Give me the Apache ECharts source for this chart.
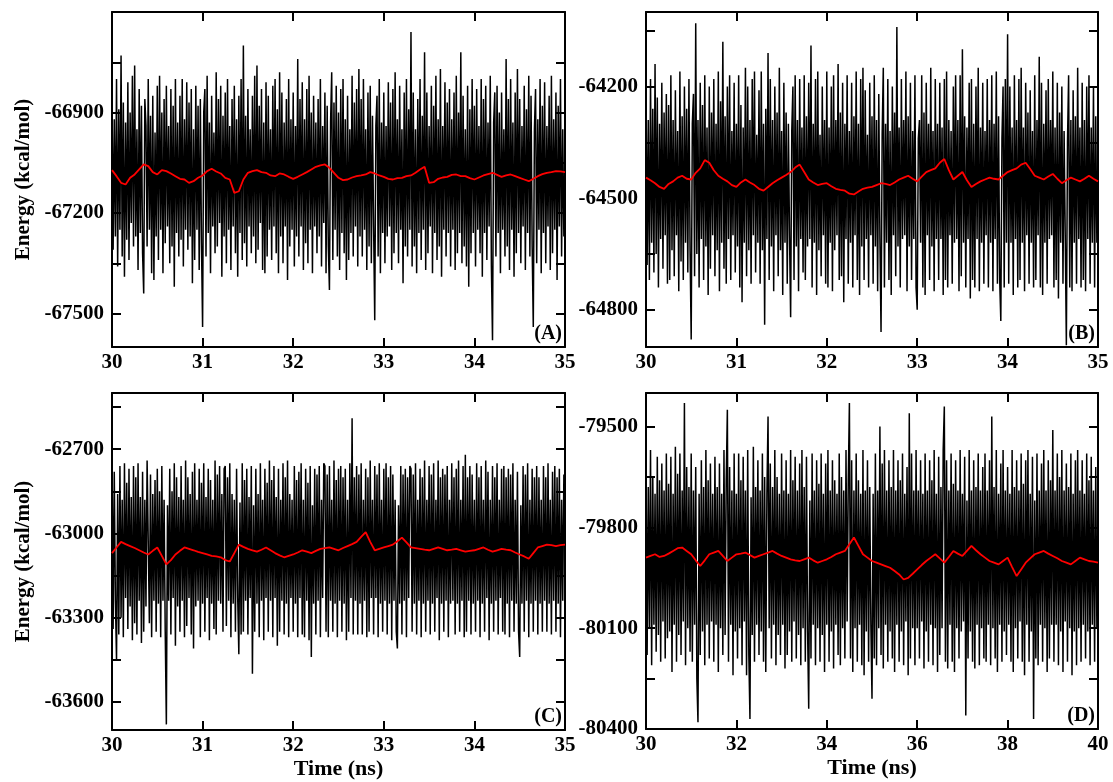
<!DOCTYPE html>
<html>
<head>
<meta charset="utf-8">
<script src="https://cdn.jsdelivr.net/npm/echarts@6/dist/echarts.min.js"></script>
<style>
html,body{margin:0;padding:0;background:#fff;}
#chart{width:1113px;height:782px;}
</style>
</head>
<body>
<div id="chart"></div>
<script>
// ---------------- DATA ----------------
const panelLabels = ['(A)', '(B)', '(C)', '(D)'];
const yTitle = 'Energy (kcal/mol)';
const xTitle = 'Time (ns)';

// time span of each panel (samples are evenly spaced over it)
const timeStart = [30, 30, 30, 30];
const timeEnd = [35, 35, 35, 40];
const xTickInterval = [1, 1, 1, 2];

// y ranges and tick labels
const yMin = [-67600, -64900, -63700, -80400];
const yMax = [-66600, -64000, -62500, -79400];
const yLabelsA = [-67500, -67200, -66900];
const yLabelsB = [-64800, -64500, -64200];
const yLabelsC = [-63600, -63300, -63000, -62700];
const yLabelsD = [-80400, -80100, -79800, -79500];
const yTicksA = [-67500, -67350, -67200, -67050, -66900, -66750];
const yTicksB = [-64800, -64650, -64500, -64350, -64200, -64050];
const yTicksC = [-63600, -63450, -63300, -63150, -63000, -62850, -62700, -62550];
const yTicksD = [-80400, -80250, -80100, -79950, -79800, -79650, -79500];

// raw energies (black)
const energyA = [
-66840,-67310,-66920,-67270,-66800,-67360,-66890,-67250,-66730,-67330,-66870,-67390,-66930,-67280,-66810,-67340,-66900,-67230,-66790,-67300,
-66760,-67270,-66950,-67370,-66830,-67260,-66880,-67320,-67440,-66860,-66940,-67300,-66800,-67250,-66910,-67380,-66850,-67400,-66960,-67270,
-66820,-67340,-66790,-67250,-66900,-67380,-66860,-67290,-66820,-67240,-66940,-67350,-66830,-67300,-66880,-67420,-66800,-67260,-66930,-67330,
-66850,-67280,-66800,-67360,-66920,-67250,-66810,-67310,-66870,-67270,-66830,-67410,-66950,-67340,-66820,-67250,-66880,-67370,-66860,-67290,
-67540,-66900,-66830,-67330,-66790,-67260,-66930,-67380,-66850,-67240,-66960,-67320,-66780,-67300,-66860,-67230,-66820,-67390,-66910,-67270,
-66840,-67350,-66800,-67250,-66940,-67370,-66860,-67240,-66820,-67320,-66920,-67390,-66850,-67260,-66800,-67340,-66700,-67290,-66910,-67360,
-66830,-67240,-66950,-67320,-66850,-67270,-66790,-67350,-66760,-67310,-66880,-67230,-66830,-67370,-66930,-67380,-66810,-67330,-66850,-67250,
-66950,-67340,-66820,-67240,-66800,-67320,-66890,-67380,-66780,-67270,-66840,-67350,-66930,-67240,-66860,-67400,-66800,-67300,-66920,-67250,
-66840,-67360,-66940,-67270,-66740,-67330,-66860,-67240,-66810,-67370,-66920,-67290,-66830,-67350,-66790,-67250,-66900,-67380,-66850,-67240,
-66930,-67320,-66860,-67270,-66800,-67360,-66940,-67230,-66840,-67380,-66880,-67300,-67430,-66930,-66780,-67340,-66870,-67250,-66820,-67330,
-66900,-67370,-66830,-67260,-66800,-67320,-66920,-67400,-66850,-67340,-66950,-67260,-66790,-67330,-66870,-67240,-66830,-67360,-66770,-67270,
-66860,-67330,-66800,-67250,-66950,-67370,-66840,-67300,-66820,-67350,-66910,-67240,-67520,-66940,-66850,-67330,-66800,-67380,-66930,-67260,
-66840,-67350,-66940,-67270,-66810,-67240,-66870,-67370,-66830,-67320,-66780,-67260,-66920,-67350,-66820,-67250,-66950,-67410,-66840,-67300,
-66800,-67330,-66890,-67250,-66660,-67360,-66840,-67300,-66950,-67380,-66860,-67260,-66800,-67340,-66910,-67250,-66720,-67370,-66840,-67320,
-66940,-67240,-66820,-67380,-66880,-67260,-66790,-67340,-66920,-67300,-66770,-67390,-66940,-67250,-66810,-67330,-66870,-67260,-66830,-67360,
-66920,-67250,-66840,-67370,-66790,-67320,-66900,-67260,-66720,-67350,-66850,-67300,-66950,-67360,-66820,-67420,-66890,-67320,-66800,-67260,
-66880,-67360,-66830,-67250,-66940,-67320,-66800,-67390,-66860,-67260,-66820,-67340,-66930,-67240,-66790,-67360,-67580,-66930,-66840,-67330,
-66820,-67260,-66900,-67380,-66840,-67250,-66950,-67330,-66740,-67300,-66860,-67370,-66800,-67250,-66930,-67390,-66840,-67320,-66770,-67260,
-66860,-67350,-66940,-67240,-66820,-67370,-66890,-67260,-66790,-67330,-66850,-67300,-67540,-66950,-66830,-67350,-66920,-67250,-66800,-67380,
-66880,-67260,-66810,-67350,-66940,-67240,-66850,-67370,-66790,-67320,-66920,-67250,-66840,-67400,-66880,-67240,-66800,-67330,-66950,-67270,
-67060];
const energyB = [
-64200,-64680,-64290,-64720,-64180,-64620,-64260,-64700,-64140,-64650,-64230,-64740,-64300,-64610,-64190,-64690,-64270,-64600,-64220,-64730,
-64250,-64720,-64170,-64640,-64290,-64710,-64210,-64600,-64320,-64750,-64160,-64670,-64280,-64720,-64200,-64620,-64260,-64700,-64180,-64640,
-64880,-64300,-64220,-64710,-64030,-64650,-64290,-64740,-64190,-64610,-64250,-64720,-64170,-64630,-64310,-64760,-64200,-64690,-64270,-64600,
-64180,-64710,-64300,-64640,-64160,-64750,-64240,-64620,-64080,-64690,-64280,-64730,-64200,-64610,-64170,-64720,-64320,-64600,-64190,-64700,
-64300,-64630,-64170,-64740,-64250,-64780,-64310,-64620,-64150,-64710,-64200,-64640,-64290,-64730,-64180,-64600,-64160,-64700,-64330,-64620,
-64210,-64730,-64160,-64640,-64300,-64840,-64260,-64610,-64110,-64720,-64180,-64630,-64290,-64750,-64200,-64600,-64270,-64710,-64150,-64640,
-64320,-64760,-64190,-64620,-64270,-64730,-64300,-64600,-64820,-64320,-64200,-64720,-64170,-64630,-64290,-64750,-64180,-64610,-64310,-64700,
-64170,-64720,-64280,-64630,-64190,-64610,-64090,-64740,-64300,-64620,-64180,-64760,-64160,-64640,-64330,-64710,-64200,-64600,-64290,-64730,
-64160,-64740,-64310,-64620,-64200,-64750,-64170,-64640,-64290,-64600,-64140,-64720,-64270,-64710,-64190,-64780,-64300,-64610,-64170,-64730,
-64320,-64620,-64190,-64740,-64280,-64600,-64160,-64720,-64300,-64760,-64180,-64630,-64150,-64720,-64210,-64610,-64330,-64740,-64190,-64600,
-64280,-64730,-64170,-64630,-64290,-64750,-64220,-64610,-64860,-64330,-64150,-64740,-64300,-64620,-64180,-64720,-64320,-64760,-64200,-64600,
-64270,-64710,-64040,-64630,-64310,-64740,-64180,-64610,-64290,-64600,-64160,-64750,-64280,-64630,-64190,-64720,-64320,-64610,-64170,-64740,
-64800,-64340,-64290,-64620,-64170,-64740,-64270,-64760,-64190,-64600,-64300,-64720,-64150,-64630,-64320,-64750,-64180,-64610,-64300,-64720,
-64190,-64610,-64310,-64760,-64180,-64720,-64160,-64740,-64290,-64600,-64320,-64730,-64200,-64620,-64170,-64610,-64290,-64750,-64170,-64710,
-64100,-64620,-64280,-64740,-64310,-64610,-64190,-64770,-64180,-64720,-64300,-64740,-64200,-64610,-64150,-64750,-64310,-64620,-64190,-64730,
-64320,-64600,-64180,-64740,-64290,-64620,-64170,-64750,-64300,-64610,-64160,-64730,-64280,-64720,-64830,-64340,-64200,-64740,-64180,-64620,
-64060,-64730,-64200,-64620,-64310,-64760,-64170,-64610,-64290,-64740,-64180,-64720,-64150,-64620,-64310,-64750,-64190,-64600,-64270,-64730,
-64210,-64620,-64320,-64740,-64170,-64720,-64290,-64600,-64120,-64740,-64190,-64760,-64300,-64620,-64210,-64730,-64180,-64610,-64290,-64600,
-64160,-64740,-64310,-64720,-64190,-64770,-64270,-64620,-64200,-64730,-64320,-64600,-64895,-64350,-64170,-64740,-64290,-64750,-64210,-64620,
-64280,-64730,-64150,-64610,-64310,-64740,-64190,-64720,-64290,-64750,-64200,-64610,-64170,-64730,-64310,-64620,-64200,-64740,-64280,-64620,
-64440];
const energyC = [
-62700,-63340,-62780,-63240,-63450,-62860,-63360,-62760,-63300,-62880,-63370,-62750,-63230,-62820,-63340,-62770,-63260,-62870,-63380,-62760,
-63320,-62800,-63360,-62750,-63240,-62870,-63390,-62780,-63350,-62880,-63260,-62740,-62740,-63320,-62790,-63370,-62860,-63240,-62810,-63350,
-62770,-63250,-62850,-63370,-62760,-63240,-62880,-63350,-63680,-62900,-63240,-62770,-63360,-62850,-63230,-62750,-63400,-62800,-63260,-62870,
-63350,-62760,-63240,-62880,-63370,-62740,-63330,-62800,-63230,-62860,-63360,-62780,-63410,-62750,-63260,-62880,-63240,-62770,-63370,-62820,
-63250,-62750,-63350,-62870,-63230,-62770,-63380,-62810,-63250,-62880,-63340,-62740,-63360,-62790,-63240,-62760,-63250,-62860,-63350,-62770,
-62760,-63330,-62800,-63240,-62750,-63370,-62860,-63250,-62880,-63350,-62770,-63230,-63430,-62890,-63360,-62750,-63350,-62810,-63240,-62770,
-63360,-62870,-63230,-62760,-63500,-62900,-63350,-62770,-63250,-62860,-63370,-62750,-63240,-62880,-63380,-62770,-63230,-62820,-63350,-62740,
-63240,-62810,-63370,-62760,-63230,-62870,-63400,-62770,-63350,-62880,-63240,-62750,-63360,-62800,-63250,-62740,-63370,-62860,-63230,-62880,
-63350,-62760,-63250,-62810,-63370,-62780,-63230,-62750,-63360,-62880,-63370,-62770,-63240,-62820,-63380,-62760,-63440,-62900,-63250,-62770,
-63360,-62790,-63240,-62760,-63370,-62880,-63230,-62750,-62760,-63350,-62790,-63370,-62760,-63240,-62880,-63350,-62740,-63250,-62810,-63370,
-62770,-63240,-62760,-63350,-62800,-63250,-62770,-63380,-62880,-63350,-62750,-63230,-62590,-63360,-62800,-63240,-62760,-63360,-62790,-63250,
-62750,-63360,-62880,-63240,-62770,-63370,-62800,-63350,-62740,-63230,-62880,-63360,-62760,-63230,-62790,-63370,-62750,-63250,-62880,-63350,
-62770,-63240,-62750,-63360,-62800,-63250,-62760,-63380,-62790,-63240,-62880,-63350,-63410,-62900,-63250,-62760,-63360,-62790,-63240,-62770,
-63370,-62800,-63230,-62760,-62770,-63350,-62790,-63250,-62750,-63360,-62880,-63240,-62770,-63370,-62800,-63250,-62740,-63350,-62880,-63240,
-62760,-63360,-62790,-63250,-62750,-63350,-62880,-63230,-62740,-63380,-62800,-63250,-62770,-63350,-62790,-63240,-62760,-63370,-62880,-63250,
-62750,-63240,-62800,-63360,-62770,-63250,-62740,-63350,-62880,-63240,-62760,-63370,-62720,-63350,-62800,-63240,-62760,-63360,-62790,-63250,
-62880,-63350,-62750,-63240,-62800,-63370,-62760,-63250,-62880,-63350,-62740,-63230,-62780,-63380,-62880,-63250,-62760,-63350,-62800,-63240,
-62750,-63360,-62880,-63230,-62770,-63350,-62760,-63360,-62800,-63250,-62770,-63370,-62790,-63240,-62750,-63350,-62880,-63250,-62780,-63350,
-63440,-62900,-63250,-62760,-63350,-62790,-63240,-62750,-63370,-62880,-63250,-62770,-63350,-62800,-63240,-62760,-63360,-62800,-63250,-62880,
-63350,-62760,-63240,-62800,-63350,-62750,-63250,-62880,-63360,-62780,-63240,-62760,-63350,-62800,-63250,-62770,-63370,-62880,-63240,-62790,
-63050];
const energyD = [
-79600,-80180,-79680,-80100,-79570,-80210,-79650,-80090,-79700,-80170,-79590,-80120,-79660,-80200,-79610,-80080,-79690,-80190,-79580,-80130,
-79670,-80110,-79590,-80230,-79700,-80090,-79560,-80200,-79640,-80120,-79580,-80180,-79690,-80080,-79430,-80210,-79620,-80100,-79680,-80170,
-79580,-80200,-79690,-80090,-79620,-80250,-80380,-79700,-80180,-79600,-80110,-79680,-80210,-79570,-80090,-79660,-80190,-79610,-80080,-79700,
-80200,-79590,-80090,-79680,-80230,-79610,-80100,-79700,-80180,-79570,-80120,-79660,-79450,-80200,-79620,-80090,-79690,-80240,-79580,-80110,
-79700,-80190,-79580,-80100,-79660,-80210,-79590,-80080,-79690,-80240,-79570,-80180,-80370,-79710,-80120,-79560,-80200,-79680,-80090,-79600,
-80180,-79690,-80110,-79580,-80200,-79650,-80230,-79700,-79470,-80100,-79610,-80190,-79680,-80090,-79570,-80210,-79650,-80120,-79700,-80180,
-79580,-80090,-79690,-80220,-79600,-80180,-79700,-80110,-79570,-80200,-79660,-80080,-79590,-80190,-79690,-80120,-79610,-80210,-79570,-80100,
-79680,-80200,-79590,-80110,-80340,-79720,-80190,-79580,-80090,-79690,-80210,-79600,-80100,-79670,-80200,-79580,-80120,-79700,-80230,-79610,
-80090,-79570,-80200,-79690,-80110,-79600,-80220,-79660,-80090,-79700,-80180,-79580,-80210,-79650,-80100,-79690,-80190,-79570,-80080,-79660,
-79430,-80190,-79600,-80230,-79690,-80100,-79580,-80200,-79660,-80090,-79700,-80210,-79570,-80240,-79690,-80110,-79600,-80200,-79680,-80090,
-80310,-79700,-80190,-79580,-80210,-79690,-80100,-79500,-80180,-79610,-80220,-79570,-80090,-79690,-80200,-79600,-80110,-79680,-80190,-79570,
-80230,-79690,-80090,-79600,-80200,-79660,-80110,-79580,-80210,-79700,-80080,-79620,-80240,-79460,-80190,-79580,-80100,-79690,-80210,-79570,
-80100,-79690,-80190,-79600,-80080,-79700,-80220,-79580,-80110,-79690,-80200,-79600,-80090,-79660,-80210,-79570,-80100,-79700,-80230,-79590,
-80180,-79680,-80100,-79570,-79440,-80200,-79600,-80220,-79690,-80090,-79580,-80200,-79670,-80230,-79600,-80100,-79690,-80190,-79570,-80110,
-79700,-80080,-79590,-80360,-79720,-80190,-79570,-80110,-79690,-80200,-79600,-80220,-79680,-80090,-79580,-80210,-79690,-80100,-79620,-80190,
-79580,-80200,-79690,-80090,-79600,-80210,-79470,-80100,-79680,-80190,-79570,-80230,-79700,-80090,-79610,-80200,-79570,-80110,-79690,-80180,
-79620,-80090,-79700,-80200,-79570,-80230,-79680,-80100,-79600,-80190,-79690,-80080,-79580,-80200,-79670,-80240,-79600,-80090,-79570,-80200,
-79700,-80110,-79590,-80370,-79720,-80190,-79580,-80210,-79690,-80090,-79610,-80200,-79570,-80100,-79690,-80230,-79600,-80190,-79660,-80090,
-79510,-80200,-79690,-80090,-79580,-80210,-79650,-80110,-79570,-80230,-79690,-80080,-79610,-80200,-79680,-80100,-79580,-80240,-79700,-80110,
-79600,-80210,-79570,-80100,-79690,-80200,-79600,-80090,-79700,-80190,-79580,-80110,-79660,-80210,-79590,-80090,-79690,-80200,-79620,-80100,
-79880];

// running averages (red)
const averageA = [
-67072,-67090,-67110,-67115,-67095,-67085,-67070,-67055,-67060,-67078,-67085,-67072,-67075,-67082,-67090,-67098,-67100,-67110,-67105,-67095,
-67088,-67075,-67068,-67076,-67082,-67095,-67100,-67140,-67135,-67100,-67080,-67075,-67072,-67078,-67080,-67088,-67090,-67082,-67085,-67092,
-67098,-67092,-67085,-67078,-67070,-67062,-67058,-67055,-67065,-67080,-67095,-67102,-67100,-67094,-67090,-67088,-67085,-67078,-67082,-67088,
-67092,-67098,-67100,-67096,-67095,-67090,-67088,-67080,-67070,-67062,-67110,-67108,-67098,-67094,-67092,-67086,-67085,-67090,-67090,-67096,
-67100,-67094,-67088,-67084,-67080,-67086,-67092,-67088,-67085,-67090,-67095,-67100,-67105,-67098,-67090,-67084,-67080,-67078,-67075,-67076,
-67078];
const averageB = [
-64445,-64452,-64460,-64470,-64475,-64462,-64455,-64445,-64440,-64448,-64450,-64432,-64420,-64398,-64405,-64425,-64440,-64448,-64455,-64465,
-64470,-64458,-64450,-64458,-64465,-64475,-64480,-64470,-64460,-64452,-64445,-64438,-64430,-64418,-64410,-64430,-64450,-64458,-64465,-64462,
-64460,-64468,-64475,-64478,-64480,-64488,-64490,-64482,-64475,-64472,-64470,-64465,-64460,-64462,-64465,-64458,-64450,-64445,-64440,-64448,
-64455,-64442,-64430,-64425,-64420,-64405,-64395,-64425,-64450,-64440,-64430,-64452,-64470,-64462,-64455,-64450,-64445,-64448,-64450,-64440,
-64430,-64425,-64420,-64410,-64405,-64422,-64440,-64445,-64450,-64442,-64435,-64448,-64460,-64452,-64445,-64450,-64455,-64448,-64440,-64448,
-64455];
const averageC = [
-63070,-63050,-63030,-63038,-63045,-63052,-63060,-63068,-63075,-63062,-63050,-63080,-63110,-63095,-63075,-63062,-63050,-63055,-63060,-63066,
-63070,-63075,-63080,-63082,-63085,-63095,-63100,-63070,-63040,-63048,-63055,-63060,-63065,-63058,-63050,-63060,-63070,-63078,-63085,-63080,
-63075,-63068,-63060,-63065,-63070,-63062,-63055,-63052,-63050,-63055,-63060,-63052,-63045,-63038,-63030,-63012,-62995,-63030,-63060,-63055,
-63050,-63045,-63040,-63028,-63015,-63032,-63050,-63052,-63055,-63058,-63060,-63055,-63050,-63055,-63060,-63058,-63055,-63060,-63065,-63062,
-63060,-63055,-63050,-63058,-63065,-63060,-63055,-63058,-63060,-63068,-63075,-63082,-63090,-63070,-63050,-63045,-63040,-63042,-63045,-63042,
-63040];
const averageD = [
-79890,-79885,-79880,-79888,-79885,-79878,-79870,-79862,-79860,-79870,-79880,-79898,-79915,-79898,-79880,-79875,-79870,-79885,-79900,-79890,
-79880,-79878,-79875,-79882,-79890,-79885,-79880,-79875,-79870,-79878,-79885,-79890,-79895,-79898,-79900,-79895,-79890,-79898,-79905,-79900,
-79895,-79888,-79880,-79875,-79870,-79850,-79830,-79855,-79880,-79890,-79900,-79905,-79910,-79915,-79920,-79930,-79940,-79955,-79950,-79938,
-79925,-79912,-79900,-79890,-79880,-79892,-79905,-79888,-79870,-79878,-79885,-79870,-79855,-79868,-79880,-79890,-79900,-79905,-79910,-79900,
-79890,-79918,-79945,-79925,-79905,-79892,-79880,-79875,-79870,-79878,-79885,-79892,-79900,-79905,-79910,-79900,-79890,-79895,-79900,-79902,
-79905];

// ---------------- CHART ----------------
const energies = [energyA, energyB, energyC, energyD];
const averages = [averageA, averageB, averageC, averageD];
const yLabelSets = [yLabelsA, yLabelsB, yLabelsC, yLabelsD];
const yTickSets = [yTicksA, yTicksB, yTicksC, yTicksD];

const grids = [
  {left: 112, top: 12, width: 453, height: 335},
  {left: 646, top: 12, width: 452, height: 335},
  {left: 112, top: 393, width: 453, height: 337},
  {left: 646, top: 393, width: 452, height: 336}
];

const FONT = 'Liberation Serif';
const lineStyle = {color: '#000', width: 2};
const tickStyle = {color: '#000', width: 2};

function toPairs(values, t0, t1) {
  const step = (t1 - t0) / (values.length - 1);
  return values.map((v, k) => [t0 + k * step, v]);
}

const xAxes = [], yAxes = [], series = [], titles = [];

grids.forEach((g, i) => {
  const showYName = (i === 0 || i === 2);
  const showXName = (i === 2 || i === 3);
  xAxes.push({
    type: 'value', gridIndex: i, position: 'bottom',
    min: timeStart[i], max: timeEnd[i], interval: xTickInterval[i],
    axisLine: {show: true, onZero: false, lineStyle},
    axisTick: {show: true, inside: true, length: 9, lineStyle: tickStyle},
    axisLabel: {show: true, color: '#000', fontFamily: FONT, fontWeight: 'bold', fontSize: 21, margin: 5,
      formatter: v => String(v)},
    splitLine: {show: false},
    name: showXName ? xTitle : '', nameLocation: 'middle', nameGap: 28,
    nameTextStyle: {color: '#000', fontFamily: FONT, fontWeight: 'bold', fontSize: 22}
  });
  xAxes.push({
    type: 'value', gridIndex: i, position: 'top',
    min: timeStart[i], max: timeEnd[i], interval: xTickInterval[i],
    axisLine: {show: true, onZero: false, lineStyle},
    axisTick: {show: true, inside: true, length: 9, lineStyle: tickStyle},
    axisLabel: {show: false},
    splitLine: {show: false}
  });
  yAxes.push({
    type: 'value', gridIndex: i, position: 'left',
    min: yMin[i], max: yMax[i],
    axisLine: {show: true, onZero: false, lineStyle},
    axisTick: {show: true, inside: true, length: 9, lineStyle: tickStyle, customValues: yTickSets[i]},
    axisLabel: {show: true, color: '#000', fontFamily: FONT, fontWeight: 'bold', fontSize: 21, margin: 8,
      customValues: yLabelSets[i], formatter: v => String(v)},
    splitLine: {show: false},
    name: showYName ? yTitle : '', nameLocation: 'middle', nameGap: 78,
    nameTextStyle: {color: '#000', fontFamily: FONT, fontWeight: 'bold', fontSize: 21}
  });
  yAxes.push({
    type: 'value', gridIndex: i, position: 'right',
    min: yMin[i], max: yMax[i],
    axisLine: {show: true, onZero: false, lineStyle},
    axisTick: {show: true, inside: true, length: 9, lineStyle: tickStyle, customValues: yTickSets[i]},
    axisLabel: {show: false},
    splitLine: {show: false}
  });

  series.push({
    type: 'line', xAxisIndex: 2 * i, yAxisIndex: 2 * i,
    data: toPairs(energies[i], timeStart[i], timeEnd[i]),
    showSymbol: false, symbol: 'none', silent: true,
    lineStyle: {color: '#000', width: 1.5}, z: 2
  });
  series.push({
    type: 'line', xAxisIndex: 2 * i, yAxisIndex: 2 * i,
    data: toPairs(averages[i], timeStart[i], timeEnd[i]),
    showSymbol: false, symbol: 'none', silent: true,
    lineStyle: {color: '#ff0000', width: 1.8}, z: 3
  });
  titles.push({
    text: panelLabels[i], padding: 0,
    right: 1113 - (g.left + g.width) + 3,
    top: g.top + g.height - 23,
    textStyle: {color: '#000', fontFamily: FONT, fontWeight: 'bold', fontSize: 20}
  });
});

const chart = echarts.init(document.getElementById('chart'), null, {renderer: 'canvas'});
chart.setOption({
  animation: false,
  backgroundColor: '#fff',
  title: titles,
  grid: grids,
  xAxis: xAxes,
  yAxis: yAxes,
  series: series
});
</script>
</body>
</html>
